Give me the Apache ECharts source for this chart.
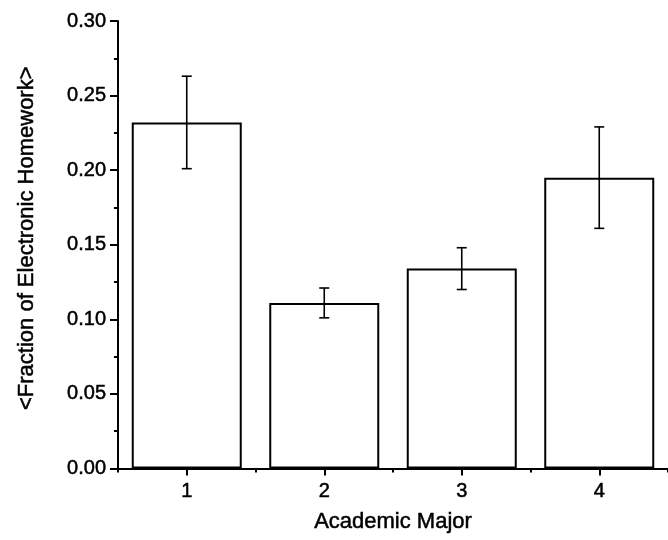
<!DOCTYPE html>
<html>
<head>
<meta charset="utf-8">
<script src="https://cdn.jsdelivr.net/npm/echarts@6/dist/echarts.min.js"></script>
<style>
  html, body { margin: 0; padding: 0; background: #fff; }
  #chart { width: 668px; height: 540px; }
</style>
</head>
<body>
<div id="chart"></div>
<script>
// Academic major categories and mean fraction of electronic homework
const majors = ['1', '2', '3', '4'];
const meanFraction = [0.232, 0.111, 0.134, 0.195];
const stdError = [0.031, 0.010, 0.014, 0.034];

const FONT = '"Liberation Sans", Arial, Helvetica, sans-serif';
// slightly heavier glyphs than the plain regular weight
const INK = { color: '#000', textBorderColor: '#000', textBorderWidth: 0.5 };

const chart = echarts.init(document.getElementById('chart'), null, { renderer: 'canvas' });

const errorData = majors.map((m, i) => [i, meanFraction[i] - stdError[i], meanFraction[i] + stdError[i]]);

chart.setOption({
  animation: false,
  backgroundColor: '#fff',
  grid: { left: 118, right: -7, top: 21, bottom: 71.5, containLabel: false },
  xAxis: [
    {
      type: 'category',
      data: majors,
      boundaryGap: true,
      name: 'Academic Major',
      nameLocation: 'middle',
      nameGap: 42,
      nameTextStyle: Object.assign({ fontFamily: FONT, fontSize: 22 }, INK),
      axisLine: { show: true, lineStyle: { color: '#000', width: 2 } },
      axisTick: { show: true, alignWithLabel: true, length: 7, lineStyle: { color: '#000', width: 2 } },
      axisLabel: Object.assign({ fontFamily: FONT, fontSize: 20, margin: 13 }, INK),
      splitLine: { show: false }
    },
    {
      // boundary ticks between categories
      type: 'category',
      data: majors,
      boundaryGap: true,
      position: 'bottom',
      axisLine: { show: false },
      axisTick: { show: true, alignWithLabel: false, length: 4, lineStyle: { color: '#000', width: 2 } },
      axisLabel: { show: false },
      splitLine: { show: false }
    }
  ],
  yAxis: {
    type: 'value',
    min: 0,
    max: 0.3,
    interval: 0.05,
    name: '<Fraction of Electronic Homework>',
    nameLocation: 'middle',
    nameGap: 80,
    nameTextStyle: Object.assign({ fontFamily: FONT, fontSize: 22, padding: [0, 0, 0, 13] }, INK),
    axisLine: { show: true, lineStyle: { color: '#000', width: 2 } },
    axisTick: { show: true, length: 8, lineStyle: { color: '#000', width: 2 } },
    minorTick: { show: true, splitNumber: 2, length: 4, lineStyle: { color: '#000', width: 2 } },
    axisLabel: Object.assign({
      fontFamily: FONT, fontSize: 20, margin: 12,
      formatter: v => v.toFixed(2)
    }, INK),
    splitLine: { show: false }
  },
  series: [
    {
      type: 'bar',
      data: meanFraction,
      barWidth: '80%',
      itemStyle: { color: '#fff', borderColor: '#000', borderWidth: 2 },
      z: 2
    },
    {
      type: 'custom',
      data: errorData,
      z: 5,
      renderItem: function (params, api) {
        const x = api.value(0);
        const lo = api.coord([x, api.value(1)]);
        const hi = api.coord([x, api.value(2)]);
        const half = 5;
        const style = { stroke: '#000', lineWidth: 1.6 };
        return {
          type: 'group',
          children: [
            { type: 'line', shape: { x1: hi[0], y1: hi[1], x2: lo[0], y2: lo[1] }, style },
            { type: 'line', shape: { x1: hi[0] - half, y1: hi[1], x2: hi[0] + half, y2: hi[1] }, style },
            { type: 'line', shape: { x1: lo[0] - half, y1: lo[1], x2: lo[0] + half, y2: lo[1] }, style }
          ]
        };
      }
    }
  ]
});
</script>
</body>
</html>
